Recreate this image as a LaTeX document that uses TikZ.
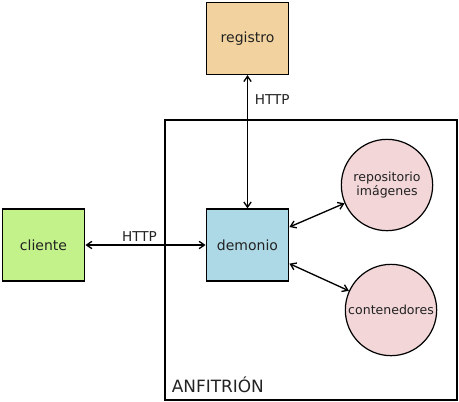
\documentclass[tikz,border=0pt]{standalone}
\usepackage{fontspec}
\setmainfont{DejaVu Sans}
\usepackage{tikz}
\usetikzlibrary{arrows.meta}
\definecolor{registrocol}{HTML}{F2D39F}
\definecolor{clientecol}{HTML}{C4F28A}
\definecolor{demoniocol}{HTML}{ADD8E6}
\definecolor{circulocol}{HTML}{F2D6D8}
\definecolor{textocol}{HTML}{222222}
\tikzset{
	caja/.style={draw, line width=0.9pt, minimum width=62pt, minimum height=54pt, inner sep=0pt, text=textocol, font=\fontsize{10.5}{12}\selectfont},
	burbuja/.style={draw, circle, line width=0.9pt, fill=circulocol, minimum size=68.5pt, inner sep=0pt, align=center, text=textocol, font=\fontsize{9.4}{10.5}\selectfont},
	etiqueta/.style={text=textocol, font=\fontsize{10.2}{12}\selectfont},
	flecha/.style={<->, line width=1pt}
}
\begin{document}
\begin{tikzpicture}[x=0.75pt, y=-0.75pt, >={Straight Barb[length=4pt,width=5.5pt]}]
	\useasboundingbox (0,0) rectangle (459,401);
	
	% host
	\draw[line width=0.9pt] (165,120) rectangle (457,400);
	\node[anchor=base west, inner sep=0pt, text=textocol, font=\fontsize{12.7}{14}\selectfont] (anfitrion) at (171.5,392) {ANFITRIÓN};
	
	\node[caja, fill=registrocol] (registro) at (247.5,38.5) {registro};
	\node[caja, fill=clientecol] (cliente) at (43.5,245) {cliente};
	\node[caja, fill=demoniocol] (demonio) at (247.5,245) {demonio};
	
	\node[burbuja] (repo) at (387,185) {repositorio\\imágenes};
	\node[burbuja] (contenedores) at (391,310) {contenedores};
	
	\draw[flecha] (registro) -- (demonio) node[etiqueta, right, pos=0.18, inner sep=5pt] {HTTP};
	\draw[flecha] (cliente) -- (demonio) node[etiqueta, above, pos=0.45, inner sep=2pt] {HTTP};
	\draw[flecha] ([yshift=13.5pt]demonio.east) -- (repo);
	\draw[flecha] ([yshift=-14pt]demonio.east) -- (contenedores);
\end{tikzpicture}
\end{document}
